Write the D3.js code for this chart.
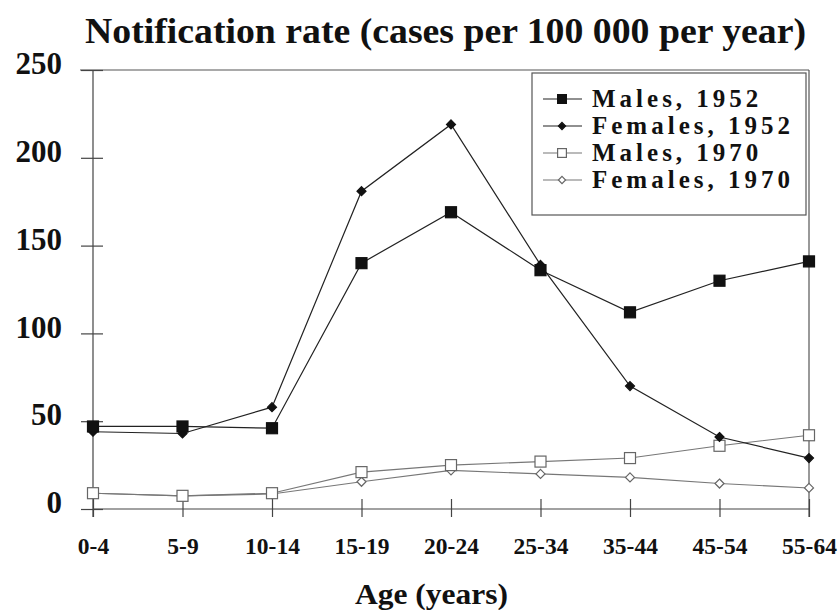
<!DOCTYPE html>
<html>
<head>
<meta charset="utf-8">
<script src="https://cdn.jsdelivr.net/npm/d3@7"></script>
<style>
  body { margin: 0; background: #fff; }
  text { font-family: "Liberation Serif", "Times New Roman", serif; font-weight: bold; fill: #111; }
</style>
</head>
<body>
<div id="chart"></div>
<script>
// age groups along the x axis
var ageGroups = ["0-4", "5-9", "10-14", "15-19", "20-24", "25-34", "35-44", "45-54", "55-64"];
var yTicks = [0, 50, 100, 150, 200, 250];

// notification rates, cases per 100 000 per year
var males1952   = [47, 47, 46, 140, 169, 136, 112, 130, 141];
var females1952 = [44, 43, 58, 181, 219, 139, 70, 41, 29];
var males1970   = [9, 7.5, 9, 21, 25, 27, 29, 36, 42];
var females1970 = [9, 7.5, 8.5, 15.5, 22, 20, 18, 14.5, 12];

var seriesNames = ["Males, 1952", "Females, 1952", "Males, 1970", "Females, 1970"];

var series = [
  {name: seriesNames[0], values: males1952,   shape: "square",  filled: true},
  {name: seriesNames[1], values: females1952, shape: "diamond", filled: true},
  {name: seriesNames[2], values: males1970,   shape: "square",  filled: false},
  {name: seriesNames[3], values: females1970, shape: "diamond", filled: false}
];

var width = 838, height = 610;
var plotLeft = 93, plotRight = 809, plotTop = 70, plotBottom = 509;

var svg = d3.select("#chart").append("svg")
  .attr("width", width)
  .attr("height", height);

var x = d3.scalePoint().domain(ageGroups).range([plotLeft, plotRight]);
var y = d3.scaleLinear().domain([0, 250]).range([plotBottom, plotTop]);

// title
svg.append("text")
  .attr("x", 85).attr("y", 43)
  .attr("font-size", 35)
  .attr("textLength", 721)
  .attr("lengthAdjust", "spacingAndGlyphs")
  .text("Notification rate (cases per 100 000 per year)");

// plot frame: top and right edges
svg.append("line")
  .attr("x1", 80).attr("x2", plotRight).attr("y1", plotTop).attr("y2", plotTop)
  .attr("stroke", "#555").attr("stroke-width", 1.2);
svg.append("line")
  .attr("x1", plotRight).attr("x2", plotRight).attr("y1", plotTop).attr("y2", plotBottom + 8)
  .attr("stroke", "#555").attr("stroke-width", 1.2);

// y axis with ticks crossing the line
var yAxis = svg.append("g")
  .attr("transform", "translate(" + plotLeft + ",0)")
  .call(d3.axisLeft(y).tickValues(yTicks).tickSize(12).tickPadding(19));
yAxis.select(".domain").attr("d", "M0," + plotTop + "V" + (plotBottom + 8)).attr("stroke", "#444").attr("stroke-width", 1.2);
yAxis.selectAll(".tick line").attr("x1", 10).attr("stroke", "#444").attr("stroke-width", 1.2);
yAxis.selectAll(".tick text")
  .attr("font-size", 31)
  .attr("font-family", null)
  .attr("dy", "0.12em")
  .attr("fill", "#111");

// x axis
var xAxis = svg.append("g")
  .attr("transform", "translate(0," + plotBottom + ")")
  .call(d3.axisBottom(x).tickSize(8).tickPadding(20));
xAxis.select(".domain").attr("d", "M" + plotLeft + ",0H" + plotRight).attr("stroke", "#444").attr("stroke-width", 1.2);
xAxis.selectAll(".tick line").attr("y1", -10).attr("stroke", "#444").attr("stroke-width", 1.2);
xAxis.selectAll(".tick text")
  .attr("font-size", 23.5)
  .attr("font-family", null)
  .attr("fill", "#111");

// x axis title
svg.append("text")
  .attr("x", 355).attr("y", 604)
  .attr("font-size", 29)
  .attr("textLength", 153)
  .attr("lengthAdjust", "spacingAndGlyphs")
  .text("Age (years)");

function drawMarker(g, s, cx, cy, scale) {
  var k = scale || 1;
  var fill = s.filled ? "#111" : "#fff";
  var stroke = s.filled ? "#111" : "#666";
  if (s.shape === "square") {
    var size = 11 * k;
    g.append("rect")
      .attr("x", cx - size / 2).attr("y", cy - size / 2)
      .attr("width", size).attr("height", size)
      .attr("fill", fill).attr("stroke", stroke).attr("stroke-width", 1.2);
  } else {
    var r = 4.5 * k;
    g.append("path")
      .attr("d", "M" + cx + "," + (cy - r) + "L" + (cx + r) + "," + cy + "L" + cx + "," + (cy + r) + "L" + (cx - r) + "," + cy + "Z")
      .attr("fill", fill).attr("stroke", stroke).attr("stroke-width", 1.2);
  }
}

var line = d3.line()
  .x(function(d, i) { return x(ageGroups[i]); })
  .y(function(d) { return y(d); });

// 1970 series first so the 1952 ones sit on top
var order = [3, 2, 1, 0];
order.forEach(function(k) {
  var s = series[k];
  var g = svg.append("g");
  g.append("path")
    .attr("d", line(s.values))
    .attr("fill", "none")
    .attr("stroke", s.filled ? "#222" : "#777")
    .attr("stroke-width", s.filled ? 1.2 : 1.1);
  s.values.forEach(function(v, i) {
    drawMarker(g, s, x(ageGroups[i]), y(v));
  });
});

// legend
var legend = svg.append("g");
legend.append("rect")
  .attr("x", 532).attr("y", 73)
  .attr("width", 274).attr("height", 142)
  .attr("fill", "#fff").attr("stroke", "#555").attr("stroke-width", 1.2);

series.forEach(function(s, i) {
  var cy = 99 + i * 27;
  var row = legend.append("g");
  row.append("line")
    .attr("x1", 543).attr("x2", 582).attr("y1", cy).attr("y2", cy)
    .attr("stroke", s.filled ? "#222" : "#777")
    .attr("stroke-width", s.filled ? 1.2 : 1.1);
  drawMarker(row, s, 562, cy, 0.8);
  row.append("text")
    .attr("x", 592).attr("y", cy + 8)
    .attr("font-size", 25)
    .attr("letter-spacing", 4)
    .text(s.name);
});
</script>
</body>
</html>
